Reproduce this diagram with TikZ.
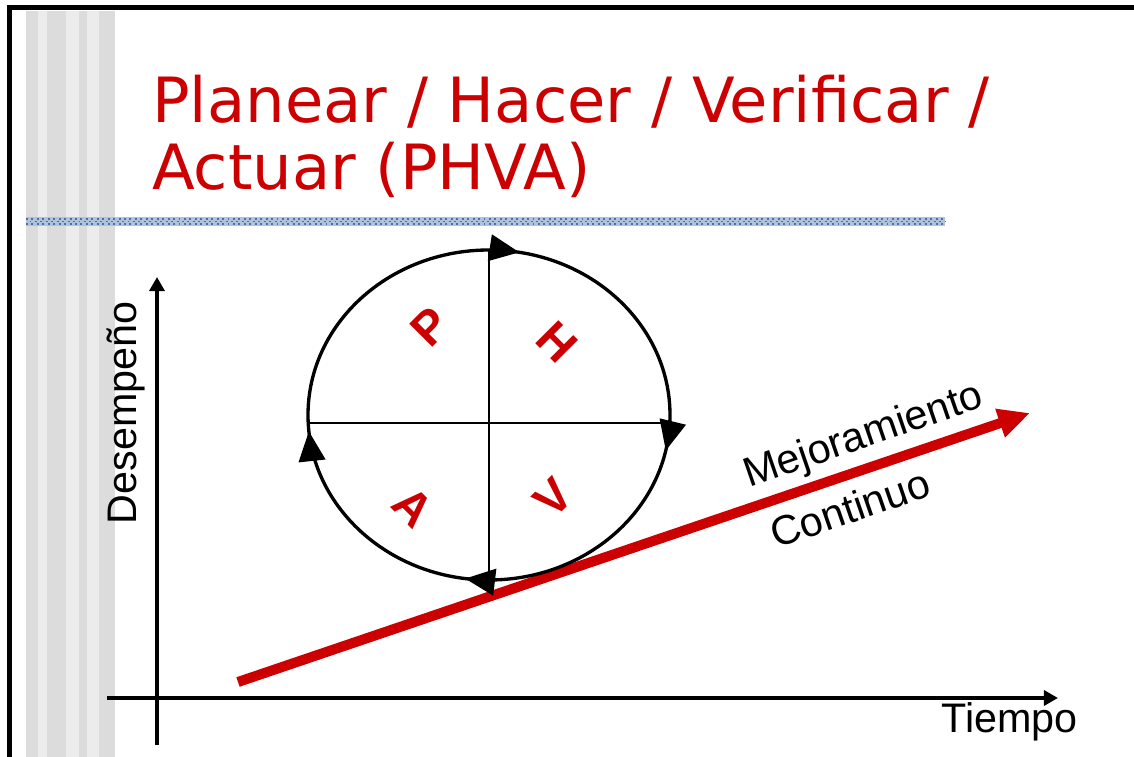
\documentclass[tikz,border=0pt]{standalone}
\usepackage{fontspec}
\setmainfont{Liberation Sans}
\newfontfamily\titlefont{DejaVu Sans}
\usetikzlibrary{arrows.meta,decorations.markings}
\definecolor{phvared}{RGB}{204,0,0}
\definecolor{stripedark}{RGB}{220,220,220}
\definecolor{stripelight}{RGB}{236,236,236}
\definecolor{bandblue}{RGB}{175,195,222}
\definecolor{banddot}{RGB}{75,112,168}
\tikzset{
  axis/.style={line width=2pt,-{Triangle[length=8pt,width=8.5pt]}},
  lbl/.style={font=\fontsize{23.5}{27}\selectfont,inner sep=0pt},
  letter/.style={font=\fontsize{27}{30}\selectfont\bfseries,text=phvared,inner sep=0pt},
  cyclearrows/.style={postaction={decorate},decoration={markings,
    mark=at position 0.278 with {\arrow{Triangle[length=17pt,width=15pt]}},
    mark=at position 0.533 with {\arrow{Triangle[length=17pt,width=15pt]}},
    mark=at position 0.772 with {\arrow{Triangle[length=17pt,width=15pt]}},
    mark=at position 0.985 with {\arrow{Triangle[length=17pt,width=15pt]}}}}
}
\begin{document}
\begin{tikzpicture}[x=0.02cm, y=0.02cm]
    \useasboundingbox (0,0) rectangle (1134,757);

    \fill[stripelight] (26,0) rectangle (115,746);
    \foreach \a/\b in {26/38, 47/66, 79/87, 99/115}
      \fill[stripedark] (\a,0) rectangle (\b,746);
    \fill[black] (7,0) rectangle (12,752);
    \fill[black] (7,747) rectangle (1134,752);
    \fill[bandblue] (26,531) rectangle (945,540);
    \draw[banddot, line width=1.1pt, dotted] (26,533) -- (945,533);
    \draw[banddot, line width=1.1pt, dotted, dash phase=1.1pt] (26,535.5) -- (945,535.5);
    \draw[banddot, line width=1.1pt, dotted] (26,538) -- (945,538);

    \node[anchor=base west, inner sep=0pt, text=phvared, font=\titlefont\fontsize{35.5}{40}\selectfont] (title1) at (152,634) {Planear / Hacer / Verificar /};
    \node[anchor=base west, inner sep=0pt, text=phvared, font=\titlefont\fontsize{35.5}{40}\selectfont] (title2) at (152,567) {Actuar (PHVA)};

    \coordinate (yb) at (157,12);
    \coordinate (yt) at (157,480);
    \coordinate (xl) at (107,59);
    \coordinate (xr) at (1058,59);
    \draw[axis] (yb) -- (yt);
    \draw[axis] (xl) -- (xr);
    \node[lbl, anchor=base west] (tiempo) at (941,24) {Tiempo};
    \node[lbl, anchor=base, rotate=90] (desempeno) at (136,344) {Desempeño};

    \coordinate (rs) at (238,75);
    \coordinate (re) at (1030,344);
    \draw[phvared, line width=5.7pt, -{Triangle[length=18pt,width=16pt]}] (rs) -- (re);
    \node[lbl, rotate=19] (mejora) at (864,320) {Mejoramiento};
    \node[lbl, rotate=19] (continuo) at (850,249) {Continuo};

    \coordinate (c) at (489,342);
    \coordinate (cw) at (308,342);
    \draw[line width=1.9pt, cyclearrows] (cw) arc[start angle=180, end angle=-180, x radius=181, y radius=165];
    \coordinate (hl) at (309,334);
    \coordinate (hr) at (670,334);
    \coordinate (vt) at (489,507);
    \coordinate (vb) at (489,165);
    \draw[line width=0.8pt] (hl) -- (hr);
    \draw[line width=0.8pt] (vt) -- (vb);

    \node[letter, rotate=45] (P) at (430,430) {P};
    \node[letter, rotate=-45] (H) at (557,415) {H};
    \node[letter, rotate=-45] (A) at (413,250) {A};
    \node[letter, rotate=45] (V) at (553,259) {V};
\end{tikzpicture}
\end{document}
